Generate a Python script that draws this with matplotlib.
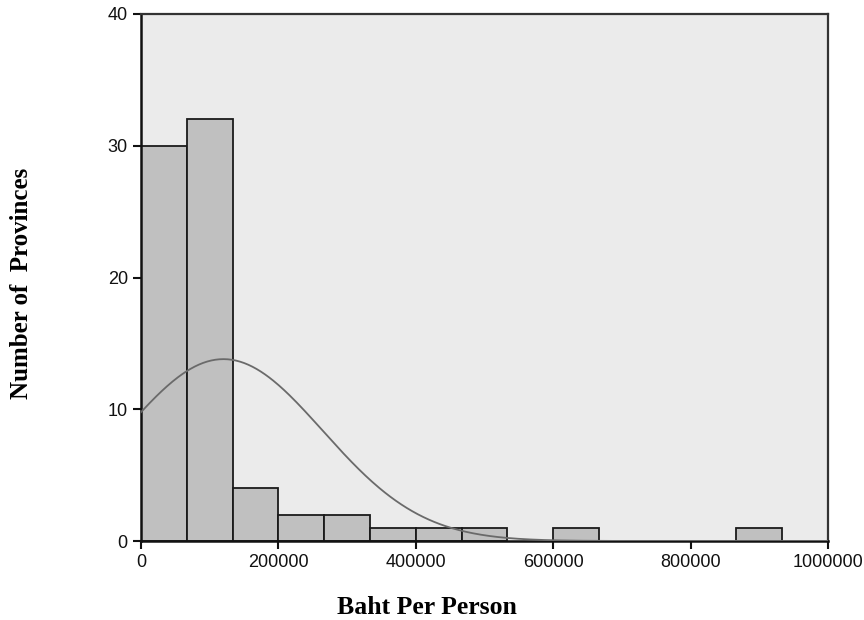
import numpy as np
import matplotlib
matplotlib.use("Agg")
import matplotlib.pyplot as plt

# Data
bin_width = 1000000 / 15
bin_lefts = [0, 66667, 133333, 200000, 266667, 333333, 400000, 466667, 600000, 866667]
counts = [30, 32, 4, 2, 2, 1, 1, 1, 1, 1]
fit_mean = 120000
fit_sd = 144500
n_total = sum(counts)
x_ticks = [0, 200000, 400000, 600000, 800000, 1000000]
y_ticks = [0, 10, 20, 30, 40]

fig = plt.figure(figsize=(8.64, 6.2), dpi=100)
ax = fig.add_axes([141/864, 1-541/620, (828-141)/864, (541-14)/620])
ax.set_facecolor('#ebebeb')

ax.bar(bin_lefts, counts, width=bin_width, align='edge', color='#c0c0c0',
       edgecolor='#1a1a1a', linewidth=1.3, zorder=2)

xs = np.linspace(0, 1000000, 500)
ys = n_total * bin_width / (fit_sd * np.sqrt(2*np.pi)) * np.exp(-(xs-fit_mean)**2/(2*fit_sd**2))
ax.plot(xs, ys, color='#6a6a6a', linewidth=1.3, zorder=3)

ax.set_xlim(0, 1000000)
ax.set_ylim(0, 40)
ax.set_xticks(x_ticks)
ax.set_xticklabels([str(t) for t in x_ticks])
ax.set_yticks(y_ticks)
for s in ['left', 'bottom']:
    ax.spines[s].set_color('#111111')
    ax.spines[s].set_linewidth(1.8)
for s in ['top', 'right']:
    ax.spines[s].set_color('#333333')
    ax.spines[s].set_linewidth(1.6)
ax.tick_params(direction='out', length=6, width=1.5, colors='#111111',
               labelsize=13)
for lab in ax.get_xticklabels() + ax.get_yticklabels():
    lab.set_family('Liberation Sans')

fig.text(427/864, 1-607/620, 'Baht Per Person', ha='center', va='center',
         family='Liberation Serif', fontweight='bold', fontsize=18.5)
fig.text(22/864, 1-283/620, 'Number of  Provinces', ha='center', va='center',
         rotation=90, family='Liberation Serif', fontweight='bold', fontsize=18)

fig.savefig('out.png', dpi=100)
